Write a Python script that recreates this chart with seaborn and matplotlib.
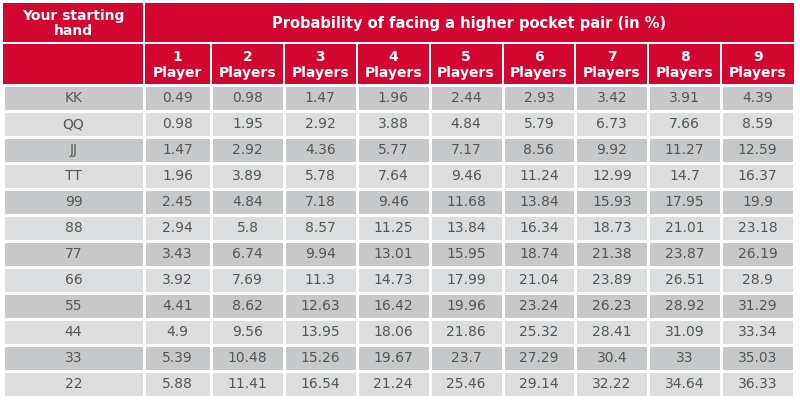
import numpy as np
import pandas as pd
import seaborn as sns
import matplotlib
matplotlib.use('Agg')
import matplotlib.pyplot as plt
from matplotlib.colors import ListedColormap
from matplotlib.patches import Rectangle

# Table contents
hands = ['KK', 'QQ', 'JJ', 'TT', '99', '88', '77', '66', '55', '44', '33', '22']
players = ['1\nPlayer', '2\nPlayers', '3\nPlayers', '4\nPlayers', '5\nPlayers',
           '6\nPlayers', '7\nPlayers', '8\nPlayers', '9\nPlayers']
corner_label = 'Your starting\nhand'
title_label = 'Probability of facing a higher pocket pair (in %)'

kk = [0.49, 0.98, 1.47, 1.96, 2.44, 2.93, 3.42, 3.91, 4.39]
qq = [0.98, 1.95, 2.92, 3.88, 4.84, 5.79, 6.73, 7.66, 8.59]
jj = [1.47, 2.92, 4.36, 5.77, 7.17, 8.56, 9.92, 11.27, 12.59]
tt = [1.96, 3.89, 5.78, 7.64, 9.46, 11.24, 12.99, 14.7, 16.37]
p99 = [2.45, 4.84, 7.18, 9.46, 11.68, 13.84, 15.93, 17.95, 19.9]
p88 = [2.94, 5.8, 8.57, 11.25, 13.84, 16.34, 18.73, 21.01, 23.18]
p77 = [3.43, 6.74, 9.94, 13.01, 15.95, 18.74, 21.38, 23.87, 26.19]
p66 = [3.92, 7.69, 11.3, 14.73, 17.99, 21.04, 23.89, 26.51, 28.9]
p55 = [4.41, 8.62, 12.63, 16.42, 19.96, 23.24, 26.23, 28.92, 31.29]
p44 = [4.9, 9.56, 13.95, 18.06, 21.86, 25.32, 28.41, 31.09, 33.34]
p33 = [5.39, 10.48, 15.26, 19.67, 23.7, 27.29, 30.4, 33, 35.03]
p22 = [5.88, 11.41, 16.54, 21.24, 25.46, 29.14, 32.22, 34.64, 36.33]

df = pd.DataFrame([kk, qq, jj, tt, p99, p88, p77, p66, p55, p44, p33, p22],
                  index=hands, columns=players)

RED = '#d2062e'
DARK = '#c7c8c9'
LIGHT = '#dcddde'
TXT = '#555555'
W, H = 800, 400

sns.set_theme(style='white')
plt.rcParams['font.family'] = ['DejaVu Sans']

fig = plt.figure(figsize=(8, 4), dpi=100)
fig.patch.set_facecolor('white')

# pixel layout
x_edges = [3, 144, 211, 794]
y_top, y_mid, y_data, y_bot = 3, 43, 85, 397

def box(px0, py0, px1, py1):
    # figure fractions from pixel box
    return [px0 / W, 1 - py1 / H, (px1 - px0) / W, (py1 - py0) / H]

parity = np.tile((np.arange(len(hands)) % 2)[:, None], (1, len(players)))
cmap = ListedColormap([DARK, LIGHT])
annot = np.array([[f'{v:g}' for v in row] for row in df.values])
kw = dict(cmap=cmap, vmin=0, vmax=1, cbar=False, fmt='', linewidths=0.8,
          linecolor='white', xticklabels=False, yticklabels=False,
          annot_kws={'color': TXT, 'fontsize': 10})

# hand column
ax_h = fig.add_axes(box(x_edges[0], y_data, x_edges[1], y_bot))
sns.heatmap(parity[:, :1], annot=np.array(hands)[:, None], ax=ax_h, **kw)
# 1 player column (a bit narrower)
ax_1 = fig.add_axes(box(x_edges[1], y_data, x_edges[2], y_bot))
sns.heatmap(parity[:, :1], annot=annot[:, :1], ax=ax_1, **kw)
# remaining columns
ax_r = fig.add_axes(box(x_edges[2], y_data, x_edges[3], y_bot))
sns.heatmap(parity[:, 1:], annot=annot[:, 1:], ax=ax_r, **kw)
for a in (ax_h, ax_1, ax_r):
    a.set_xlabel('')
    a.set_ylabel('')

# header cells drawn on an overlay in pixel coordinates
ov = fig.add_axes([0, 0, 1, 1], zorder=-1)
ov.set_xlim(0, W)
ov.set_ylim(H, 0)
ov.axis('off')

def cell(px0, py0, px1, py1, text, size):
    ov.add_patch(Rectangle((px0 + 1, py0 + 1), px1 - px0 - 2, py1 - py0 - 2,
                           facecolor=RED, edgecolor='none'))
    if text:
        ov.text((px0 + px1) / 2, (py0 + py1) / 2 + 1, text, ha='center', va='center',
                color='white', fontsize=size, fontweight='bold', linespacing=1.15)

cell(x_edges[0] - 1, y_top - 1, x_edges[1], y_mid, corner_label, 10)
cell(x_edges[1], y_top - 1, x_edges[3] + 1, y_mid, title_label, 10.5)
cell(x_edges[0] - 1, y_mid, x_edges[1], y_data, '', 10)
col_x = [x_edges[1], x_edges[2]] + [x_edges[2] + (x_edges[3] - x_edges[2]) * k / 8 for k in range(1, 9)]
for i, lab in enumerate(players):
    cell(col_x[i], y_mid, col_x[i + 1] + (1 if i == 8 else 0), y_data, lab, 10)

fig.savefig('out.png', dpi=100, facecolor='white')
